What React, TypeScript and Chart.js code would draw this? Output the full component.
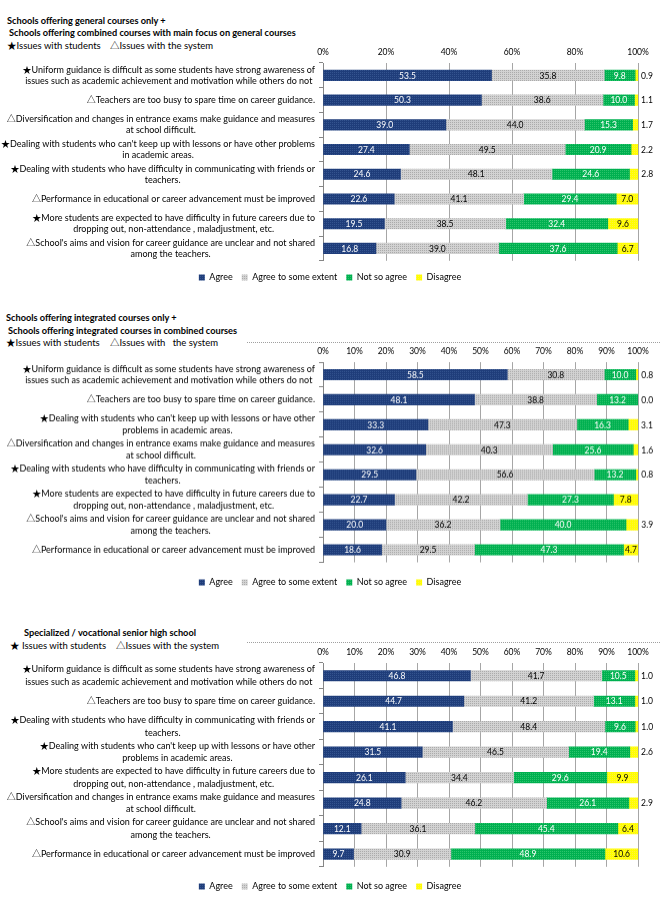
import React, { useEffect, useRef } from 'react';
import { Chart, registerables } from 'chart.js';

Chart.register(...registerables);

const FONT = "Lato, 'Noto Sans CJK JP', 'DejaVu Sans', sans-serif";
const SERIES = ['Agree', 'Agree to some extent', 'Not so agree', 'Disagree'];

// ---------- Panel 1 ----------
const p1Categories: string[][] = [
  ['★Uniform guidance is difficult as some students have strong awareness of', 'issues such as academic achievement and motivation while others do not'],
  ['△Teachers are too busy to spare time on career guidance.'],
  ['△Diversification and changes in entrance exams make guidance and measures', 'at school difficult.'],
  ["★Dealing with students who can't keep up with lessons or have other problems", 'in academic areas.'],
  ['★Dealing with students who have difficulty in communicating with friends or', 'teachers.'],
  ['△Performance in educational or career advancement must be improved'],
  ['★More students are expected to have difficulty in future careers due to', 'dropping out, non-attendance , maladjustment, etc.'],
  ["△School's aims and vision for career guidance are unclear and not shared", 'among the teachers.'],
];
const p1Agree = [53.5, 50.3, 39.0, 27.4, 24.6, 22.6, 19.5, 16.8];
const p1Some = [35.8, 38.6, 44.0, 49.5, 48.1, 41.1, 38.5, 39.0];
const p1NotSo = [9.8, 10.0, 15.3, 20.9, 24.6, 29.4, 32.4, 37.6];
const p1Disagree = [0.9, 1.1, 1.7, 2.2, 2.8, 7.0, 9.6, 6.7];
const p1Ticks = [0, 20, 40, 60, 80, 100];

// ---------- Panel 2 ----------
const p2Categories: string[][] = [
  ['★Uniform guidance is difficult as some students have strong awareness of', 'issues such as academic achievement and motivation while others do not'],
  ['△Teachers are too busy to spare time on career guidance.'],
  ["★Dealing with students who can't keep up with lessons or have other", 'problems in academic areas.'],
  ['△Diversification and changes in entrance exams make guidance and measures', 'at school difficult.'],
  ['★Dealing with students who have difficulty in communicating with friends or', 'teachers.'],
  ['★More students are expected to have difficulty in future careers due to', 'dropping out, non-attendance , maladjustment, etc.'],
  ["△School's aims and vision for career guidance are unclear and not shared", 'among the teachers.'],
  ['△Performance in educational or career advancement must be improved'],
];
const p2Agree = [58.5, 48.1, 33.3, 32.6, 29.5, 22.7, 20.0, 18.6];
const p2Some = [30.8, 38.8, 47.3, 40.3, 56.6, 42.2, 36.2, 29.5];
const p2NotSo = [10.0, 13.2, 16.3, 25.6, 13.2, 27.3, 40.0, 47.3];
const p2Disagree = [0.8, 0.0, 3.1, 1.6, 0.8, 7.8, 3.9, 4.7];
const p2Ticks = [0, 10, 20, 30, 40, 50, 60, 70, 80, 90, 100];

// ---------- Panel 3 ----------
const p3Categories: string[][] = [
  ['★Uniform guidance is difficult as some students have strong awareness of', 'issues such as academic achievement and motivation while others do not'],
  ['△Teachers are too busy to spare time on career guidance.'],
  ['★Dealing with students who have difficulty in communicating with friends or', 'teachers.'],
  ["★Dealing with students who can't keep up with lessons or have other", 'problems in academic areas.'],
  ['★More students are expected to have difficulty in future careers due to', 'dropping out, non-attendance , maladjustment, etc.'],
  ['△Diversification and changes in entrance exams make guidance and measures', 'at school difficult.'],
  ["△School's aims and vision for career guidance are unclear and not shared", 'among the teachers.'],
  ['△Performance in educational or career advancement must be improved'],
];
const p3Agree = [46.8, 44.7, 41.1, 31.5, 26.1, 24.8, 12.1, 9.7];
const p3Some = [41.7, 41.2, 48.4, 46.5, 34.4, 46.2, 36.1, 30.9];
const p3NotSo = [10.5, 13.1, 9.6, 19.4, 29.6, 26.1, 45.4, 48.9];
const p3Disagree = [1.0, 1.0, 1.0, 2.6, 9.9, 2.9, 6.4, 10.6];
const p3Ticks = [0, 10, 20, 30, 40, 50, 60, 70, 80, 90, 100];

const LABEL_SIZE = 9;
const TICK_SIZE = 8.5;
const VALUE_SIZE = 8.5;
const LEGEND_SIZE = 9;

function makePattern(base: string, dot: string): CanvasPattern | string {
  const c = document.createElement('canvas');
  c.width = 4;
  c.height = 4;
  const g = c.getContext('2d');
  if (!g) return base;
  g.fillStyle = base;
  g.fillRect(0, 0, 4, 4);
  g.fillStyle = dot;
  g.fillRect(0, 0, 1, 1);
  g.fillRect(2, 2, 1, 1);
  g.fillRect(2, 0, 1, 1);
  g.fillRect(0, 2, 1, 1);
  const p = g.createPattern(c, 'repeat');
  return p || base;
}

const valueLabels = {
  id: 'valueLabels',
  afterDatasetsDraw(chart: any) {
    const ctx = chart.ctx as CanvasRenderingContext2D;
    ctx.save();
    ctx.font = `${VALUE_SIZE}px ${FONT}`;
    ctx.textBaseline = 'middle';
    chart.data.datasets.forEach((ds: any, di: number) => {
      const meta = chart.getDatasetMeta(di);
      meta.data.forEach((el: any, i: number) => {
        const v = ds.data[i] as number;
        const txt = v.toFixed(1);
        if (di === 3 && v < 4) {
          ctx.textAlign = 'left';
          ctx.fillStyle = '#000';
          ctx.fillText(txt, Math.max(el.x, chart.chartArea.right) + 3, el.y + 0.5);
        } else {
          ctx.textAlign = 'center';
          ctx.fillStyle = di === 0 || di === 2 ? '#fff' : '#000';
          ctx.fillText(txt, (el.x + el.base) / 2, el.y + 0.5);
        }
      });
    });
    ctx.restore();
  },
};

const categoryLabels = {
  id: 'categoryLabels',
  afterDraw(chart: any, _args: any, opts: any) {
    const ctx = chart.ctx as CanvasRenderingContext2D;
    const ys = chart.scales.y;
    const lh = opts.lineHeight || 11.5;
    ctx.save();
    ctx.font = `${LABEL_SIZE}px ${FONT}`;
    ctx.textBaseline = 'middle';
    ctx.textAlign = 'center';
    ctx.fillStyle = '#000';
    const right = chart.chartArea.left - 8;
    (chart.data.labels as string[][]).forEach((lines, i) => {
      const cy = ys.getPixelForValue(i);
      const maxW = Math.max(...lines.map((l) => ctx.measureText(l).width));
      const cx = right - maxW / 2;
      lines.forEach((l, k) => {
        ctx.fillText(l, cx, cy + (k - (lines.length - 1) / 2) * lh);
      });
    });
    ctx.restore();
  },
};

type PanelProps = {
  top: number;
  categories: string[][];
  agree: number[];
  some: number[];
  notSo: number[];
  disagree: number[];
  ticks: number[];
  axisH: number;
  plotH: number;
  gap: number;
  lineH: number;
};

const LEGEND_PAD = 9;
const LEGEND_H = LEGEND_SIZE + LEGEND_PAD + 10;
const PAD_SIDE = 22;

function Panel(props: PanelProps) {
  const ref = useRef<HTMLCanvasElement | null>(null);
  const height = props.axisH + props.plotH + props.gap + LEGEND_H;
  useEffect(() => {
    if (!ref.current) return;
    const navy = makePattern('#1f3d7a', '#34548f');
    const gray = makePattern('#d2d2d2', '#ababab');
    const green = makePattern('#00b050', '#2cc46c');
    const yellow = makePattern('#ffff00', '#fff040');
    const values = [props.agree, props.some, props.notSo, props.disagree];
    const fills = [navy, gray, green, yellow];
    const tickVals = props.ticks;
    const chart = new Chart(ref.current, {
      type: 'bar',
      data: {
        labels: props.categories as any,
        datasets: SERIES.map((name, i) => ({
          label: name,
          data: values[i],
          backgroundColor: fills[i] as any,
          borderWidth: 0,
          barThickness: 10.5,
          xAxisID: 'x',
          yAxisID: 'y',
        })),
      },
      options: {
        indexAxis: 'y',
        animation: false,
        responsive: false,
        maintainAspectRatio: false,
        events: [],
        layout: { padding: { left: PAD_SIDE, right: PAD_SIDE, top: 0, bottom: 0 } },
        scales: {
          x: {
            type: 'linear',
            position: 'top',
            stacked: true,
            min: 0,
            max: 100,
            afterBuildTicks: (scale: any) => {
              scale.ticks = tickVals.map((v) => ({ value: v }));
            },
            afterFit: (scale: any) => {
              scale.height = props.axisH;
            },
            ticks: {
              padding: 6,
              color: '#000',
              font: { family: FONT, size: TICK_SIZE },
              maxRotation: 0,
              callback: (v: any) => `${v}%`,
            },
            grid: { color: '#a6a6a6', drawTicks: false, lineWidth: 1 },
            border: { display: false },
          },
          gap: {
            type: 'linear',
            axis: 'x',
            position: 'bottom',
            display: props.gap > 0,
            ticks: { display: false },
            grid: { display: false },
            border: { display: false },
            afterFit: (scale: any) => {
              scale.height = props.gap;
            },
          } as any,
          y: {
            type: 'category',
            stacked: true,
            afterFit: (scale: any) => {
              scale.width = 323 - PAD_SIDE;
            },
            ticks: { callback: () => '' },
            grid: {
              drawOnChartArea: false,
              drawTicks: true,
              tickLength: 4,
              color: '#868686',
              offset: true,
            },
            border: { display: true, color: '#868686' },
          },
        },
        plugins: {
          tooltip: { enabled: false },
          legend: {
            position: 'bottom',
            labels: {
              boxWidth: 6,
              boxHeight: 6,
              padding: LEGEND_PAD,
              color: '#000',
              font: { family: FONT, size: LEGEND_SIZE },
            },
          },
          categoryLabels: { lineHeight: props.lineH },
        } as any,
      },
      plugins: [valueLabels, categoryLabels],
    });
    return () => chart.destroy();
  }, []);
  return (
    <canvas
      ref={ref}
      width={660}
      height={height}
      style={{ position: 'absolute', left: 0, top: props.top, width: 660, height, display: 'block' }}
    />
  );
}

const titleStyle: React.CSSProperties = {
  position: 'absolute',
  fontFamily: FONT,
  fontWeight: 700,
  fontSize: 9.2,
  lineHeight: '12px',
  whiteSpace: 'pre',
  color: '#000',
};
const subStyle: React.CSSProperties = {
  position: 'absolute',
  fontFamily: FONT,
  fontWeight: 400,
  fontSize: 9.5,
  lineHeight: '12px',
  whiteSpace: 'pre',
  color: '#000',
};

function T(props: { x: number; y: number; bold?: boolean; text: string }) {
  return (
    <div style={{ ...(props.bold ? titleStyle : subStyle), left: props.x, top: props.y - 6 }}>{props.text}</div>
  );
}

export default function App() {
  return (
    <div style={{ position: 'absolute', left: 0, top: 0, width: 660, height: 901, background: '#fff', overflow: 'hidden' }}>
      <T x={7} y={20.7} bold text="Schools offering general courses only +" />
      <T x={9} y={32.7} bold text="Schools offering combined courses with main focus on general courses" />
      <T x={7} y={45.7} text="★Issues with students" />
      <T x={110} y={45.7} text="△Issues with the system" />
      <Panel top={42} categories={p1Categories} agree={p1Agree} some={p1Some} notSo={p1NotSo} disagree={p1Disagree}
        ticks={p1Ticks} axisH={21} plotH={198} gap={3.2} lineH={11.3} />

      <T x={6} y={318.3} bold text="Schools offering integrated courses only +" />
      <T x={8} y={330.7} bold text="Schools offering integrated courses in combined courses" />
      <T x={6} y={343.3} text="★Issues with students" />
      <T x={110} y={343.3} text="△Issues with   the system" />
      <div style={{ position: 'absolute', left: 247, top: 342, width: 413, borderTop: '1px dotted #a0a0a0' }} />
      <Panel top={341} categories={p2Categories} agree={p2Agree} some={p2Some} notSo={p2NotSo} disagree={p2Disagree}
        ticks={p2Ticks} axisH={21} plotH={200} gap={6.5} lineH={11.7} />

      <T x={24} y={632.7} bold text="Specialized / vocational senior high school" />
      <T x={10} y={645.7} text="★ Issues with students" />
      <T x={116} y={645.7} text="△Issues with the system" />
      <div style={{ position: 'absolute', left: 247, top: 642, width: 413, borderTop: '1px dotted #a0a0a0' }} />
      <Panel top={641} categories={p3Categories} agree={p3Agree} some={p3Some} notSo={p3NotSo} disagree={p3Disagree}
        ticks={p3Ticks} axisH={22} plotH={204} gap={6.2} lineH={12.5} />
    </div>
  );
}
